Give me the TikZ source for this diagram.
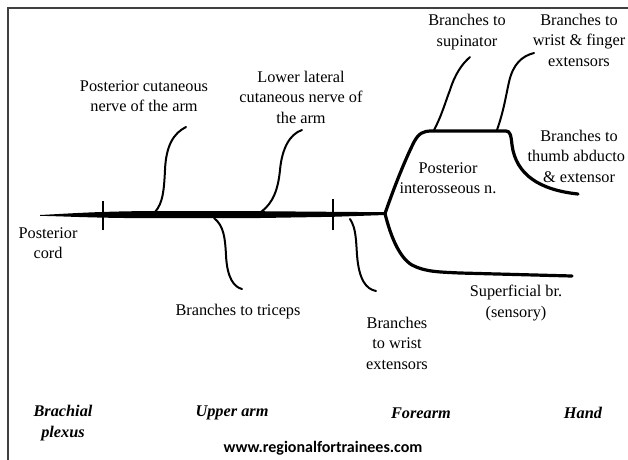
\documentclass[tikz,border=0pt]{standalone}
\usepackage{fontspec}
\setmainfont{Liberation Serif}
\newfontfamily\urlfont{Carlito}
\begin{document}
\begin{tikzpicture}[x=1pt,y=-1pt,
  nerve/.style={line width=2pt,line cap=round,line join=round},
  bignerve/.style={line width=3.2pt,line cap=round,line join=round},
  tickmark/.style={line width=1.8pt},
  lbl/.style={font=\fontsize{16.3}{20.5}\selectfont,align=center,inner sep=0pt},
  region/.style={font=\fontsize{16.3}{20.5}\selectfont\bfseries\itshape,align=center,inner sep=0pt},
  frameline/.style={line width=1.4pt,draw=black!75}]
\useasboundingbox (0,0) rectangle (628,459);
% frame
\draw[frameline] (8,470) -- (8,8) -- (640,8);

% coordinates
\coordinate (trunkL) at (40,215);
\coordinate (bp) at (385,213.5);
\coordinate (pcnB) at (155,212);
\coordinate (pcnT) at (186,127);
\coordinate (llcB) at (261,212);
\coordinate (llcT) at (302,130);
\coordinate (triB) at (214,218);
\coordinate (triE) at (242,289);
\coordinate (wrB) at (350,219);
\coordinate (wrE) at (376,291);
\coordinate (supB) at (434,130);
\coordinate (supT) at (470,57);
\coordinate (wfB) at (497,130);
\coordinate (wfT) at (534,53);
\coordinate (pinE) at (578,194);
\coordinate (supE) at (572,276);

% main trunk
\fill (trunkL) .. controls (70,213.5) and (95,211.5) .. (150,211) -- (260,211.2) -- (333,211.8) -- (385,212.2)
  -- (385,215) -- (333,216.8) -- (260,218) -- (150,218.2) .. controls (95,218) and (70,216.5) .. (40,215.8) -- cycle;

% ticks
\draw[tickmark] (103,201) -- (103,230);
\draw[tickmark] (333,199) -- (333,230);

% upper-arm branches
\draw[nerve] (pcnB) .. controls (163,203) and (164,190) .. (165,170)
  .. controls (166,145) and (174,133) .. (pcnT);
\draw[nerve] (llcB) .. controls (273,203) and (278,190) .. (280,170)
  .. controls (282,148) and (290,134) .. (llcT);
\draw[nerve] (triB) .. controls (224,226) and (225,238) .. (226,255)
  .. controls (227,278) and (234,287) .. (triE);
\draw[nerve] (wrB) .. controls (356,228) and (356,240) .. (357,255)
  .. controls (359,280) and (366,289) .. (wrE);

% posterior interosseous
\draw[bignerve] (bp) .. controls (395,185) and (405,160) .. (414,142)
  .. controls (419,133) and (423,131) .. (432,131) -- (506,131)
  .. controls (510,131) and (511,135) .. (512,145)
  .. controls (516,175) and (540,190) .. (pinE);
\draw[nerve] (supB) .. controls (442,115) and (446,100) .. (450,90)
  .. controls (455,74) and (462,64) .. (supT);
\draw[nerve] (wfB) .. controls (504,110) and (506,95) .. (509,82)
  .. controls (513,64) and (522,56) .. (wfT);

% superficial
\draw[bignerve] (bp) .. controls (391,238) and (400,258) .. (412,265)
  .. controls (425,272) and (440,272) .. (460,273) -- (supE);

% labels
\node[lbl] (lPC) at (144,96) {Posterior cutaneous\\nerve of the arm};
\node[lbl] (lLL) at (301,97) {Lower lateral\\cutaneous nerve of\\the arm};
\node[lbl] (lSup) at (467,32) {Branches to\\supinator};
\node[lbl] (lWF) at (579,40) {Branches to\\wrist \& finger\\extensors};
\node[lbl] (lTh) at (579,156) {Branches to\\thumb abducto\phantom{r}\\\& extensor};
\node[lbl] (lPIN) at (448,178) {Posterior\\interosseous n.};
\node[lbl] (lCord) at (48,243) {Posterior\\cord};
\node[lbl] (lTri) at (238,312) {Branches to triceps};
\node[lbl] (lWr) at (397,343) {Branches\\to wrist\\extensors};
\node[lbl] (lSS) at (516,303) {Superficial br.\\(sensory)};

\node[region] (rBP) at (63,423) {Brachial\\plexus};
\node[region] (rUA) at (232,413) {Upper arm};
\node[region] (rFA) at (421,413) {Forearm};
\node[region] (rH) at (583,413) {Hand};
\node[inner sep=0pt,font=\urlfont\bfseries\fontsize{16}{19}\selectfont] (url) at (323,448) {www.regionalfortrainees.com};
\end{tikzpicture}
\end{document}
